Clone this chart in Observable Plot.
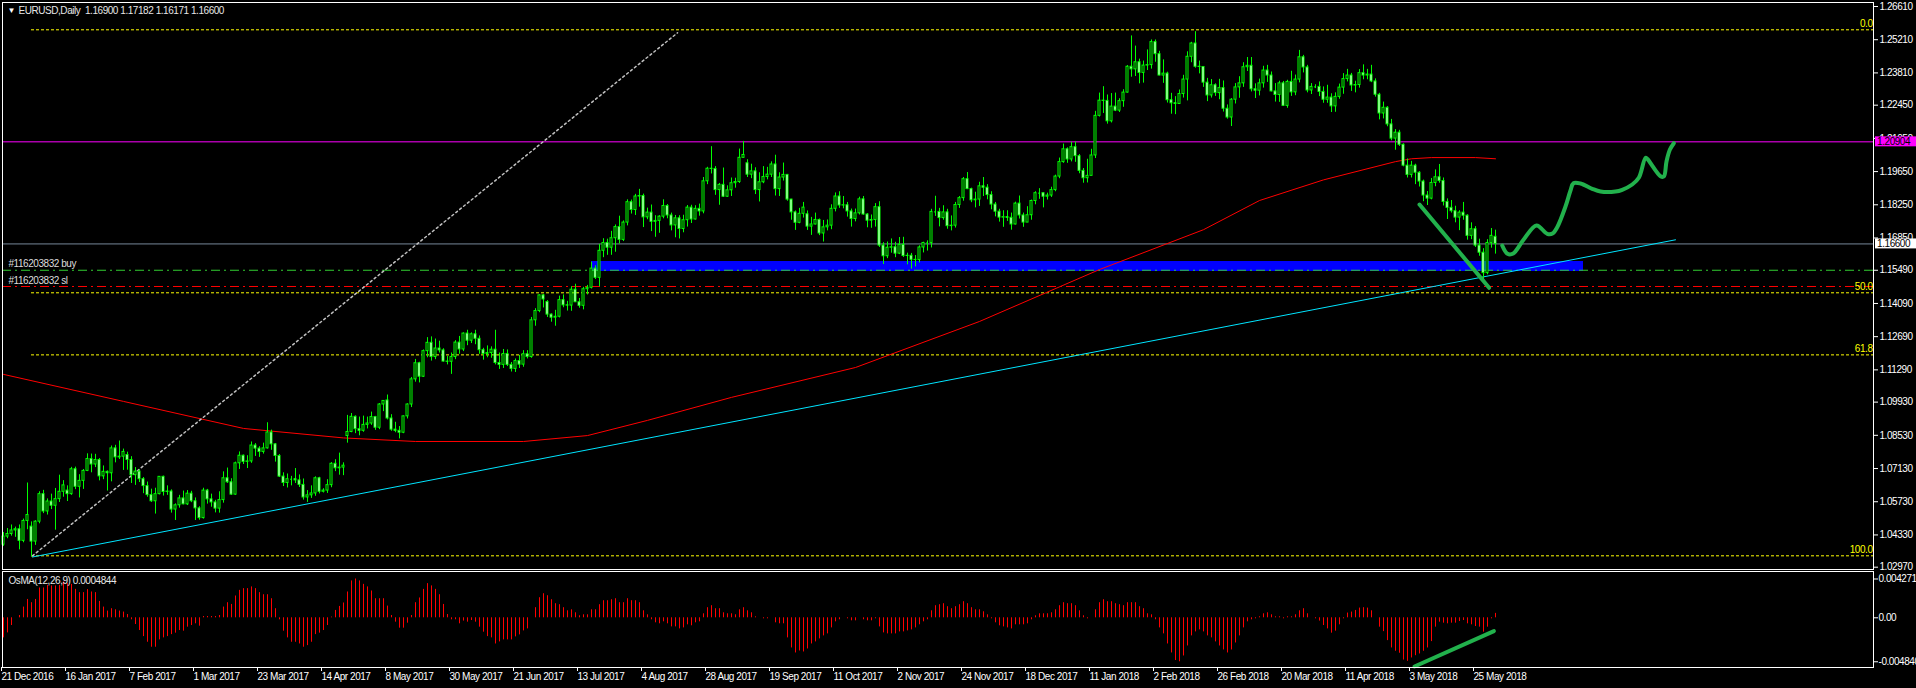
<!DOCTYPE html>
<html><head><meta charset="utf-8">
<script src="https://cdn.jsdelivr.net/npm/d3@7"></script>
<script src="https://cdn.jsdelivr.net/npm/@observablehq/plot@0.6"></script>
<style>
html,body{margin:0;padding:0;background:#000;}
#wrap{position:relative;width:1916px;height:688px;overflow:hidden;background:#000;}
#main,#osc{position:absolute;left:0;}
#main{top:0}
#osc{top:570px}
svg{display:block}
</style></head><body><div id="wrap"><div id="main"></div><div id="osc"></div></div>
<script>
const FONT = '"Liberation Sans",Arial,sans-serif';

// ---- daily EURUSD bars (prices x 1e-4), index 0 = 21 Dec 2016 ----
const opens = [10392,10426,10437,10452,10457,10408,10492,10468,10405,10489,10605,10532,10574,10556,10584,10615,10620,10605,10710,10636,10661,10703,10753,10730,10749,10680,10699,10693,10798,10760,10763,10770,10749,10685,10700,10668,10639,10601,10575,10605,10678,10614,10616,10540,10558,10587,10562,10607,10575,10545,10504,10620,10583,10570,10544,10580,10672,10655,10603,10735,10767,10741,10743,10810,10797,10783,10798,10865,10815,10766,10679,10652,10668,10668,10663,10644,10591,10600,10608,10672,10615,10620,10643,10733,10714,10717,10850,10867,10931,10879,10872,10897,10903,10930,10885,10983,11000,10924,10877,10872,10864,10933,10983,11089,11157,11100,11208,11243,11183,11219,11211,11164,11163,11183,11244,11215,11282,11252,11279,11260,11212,11196,11200,11214,11158,11150,11196,11150,11133,11166,11151,11195,11183,11338,11377,11443,11415,11362,11349,11353,11423,11401,11400,11467,11414,11399,11469,11475,11556,11517,11631,11664,11644,11684,11731,11677,11750,11836,11803,11860,11862,11772,11792,11753,11757,11775,11820,11780,11738,11768,11723,11760,11813,11763,11808,11797,11924,11977,11976,11887,11909,11859,11886,11916,11921,12023,12000,11952,11966,11887,11920,11942,11952,11995,11891,11940,11951,11847,11793,11749,11787,11785,11733,11742,11761,11704,11730,11737,11808,11860,11822,11823,11797,11765,11789,11848,11784,11758,11761,11815,11653,11608,11644,11646,11619,11656,11609,11610,11593,11592,11645,11664,11664,11795,11795,11769,11793,11735,11737,11824,11853,11933,11891,11844,11847,11903,11897,11866,11826,11796,11771,11773,11770,11742,11830,11780,11750,11781,11841,11874,11874,11859,11864,11887,11944,12005,12059,12016,12068,12030,11968,11937,11947,12033,12200,12264,12263,12177,12239,12222,12262,12298,12407,12396,12426,12381,12412,12414,12511,12460,12370,12378,12266,12253,12250,12292,12353,12449,12505,12407,12406,12340,12286,12329,12296,12317,12230,12193,12268,12320,12337,12405,12411,12312,12306,12337,12391,12370,12303,12288,12337,12242,12343,12299,12353,12447,12404,12307,12322,12322,12301,12268,12277,12240,12280,12319,12355,12370,12328,12330,12380,12370,12374,12345,12289,12210,12234,12164,12104,12129,12078,11990,11951,11990,11960,11923,11864,11851,11917,11941,11925,11837,11812,11798,11771,11792,11779,11694,11722,11653,11623,11537,11664,11690];
const highs = [10443,10460,10475,10466,10475,10500,10652,10488,10493,10615,10621,10585,10605,10629,10685,10662,10640,10718,10719,10687,10709,10775,10774,10773,10755,10724,10703,10808,10811,10829,10795,10782,10763,10717,10707,10675,10656,10626,10630,10679,10681,10640,10623,10564,10600,10618,10620,10617,10589,10552,10630,10625,10605,10579,10615,10699,10715,10670,10740,10783,10770,10767,10825,10818,10805,10820,10906,10875,10818,10772,10695,10690,10680,10713,10686,10669,10620,10640,10678,10676,10628,10666,10738,10750,10778,10737,10937,10945,10935,10930,10934,10930,10951,10933,10987,10999,11023,10940,10908,10890,10935,10986,11097,11173,11161,11213,11265,11268,11259,11250,11218,11186,11200,11252,11270,11285,11296,11285,11296,11272,11220,11230,11226,11296,11200,11215,11213,11160,11175,11190,11210,11210,11350,11387,11445,11446,11421,11365,11380,11440,11445,11418,11480,11490,11430,11477,11485,11583,11568,11658,11682,11680,11713,11740,11777,11757,11846,11845,11869,11890,11870,11811,11824,11779,11779,11846,11826,11790,11780,11779,11781,11822,11823,11821,11828,11940,11983,12070,11986,11915,11980,11905,11938,11937,12060,12092,12015,11996,11981,11960,11986,11983,12006,12034,11960,12001,11953,11848,11799,11810,11835,11799,11772,11790,11765,11759,11761,11825,11875,11880,11860,11835,11807,11807,11857,11860,11788,11782,11830,11838,11665,11668,11681,11667,11687,11688,11621,11620,11611,11652,11667,11673,11806,11861,11810,11821,11806,11778,11835,11860,11940,11961,11895,11878,11920,11940,11910,11880,11835,11806,11800,11800,11790,11836,11862,11790,11817,11845,11880,11893,11875,11874,11899,11950,12022,12081,12065,12089,12090,12037,11978,12017,12059,12219,12296,12323,12288,12294,12296,12272,12310,12412,12537,12494,12439,12431,12478,12520,12520,12472,12436,12384,12295,12281,12309,12371,12470,12510,12555,12431,12408,12358,12353,12335,12354,12347,12246,12273,12336,12365,12424,12446,12446,12335,12355,12409,12413,12385,12336,12346,12345,12350,12388,12372,12476,12455,12413,12336,12331,12343,12322,12329,12293,12297,12334,12378,12396,12379,12346,12395,12415,12396,12413,12356,12295,12258,12239,12185,12142,12139,12082,12018,12008,11996,11965,11929,11881,11936,11972,11995,11938,11850,11843,11819,11800,11835,11783,11749,11733,11680,11640,11678,11725,11718];
const lows = [10385,10417,10428,10423,10370,10400,10455,10340,10389,10480,10523,10517,10540,10453,10570,10592,10574,10600,10624,10589,10625,10700,10695,10717,10661,10666,10618,10657,10737,10751,10705,10706,10650,10642,10654,10607,10592,10570,10521,10602,10597,10600,10525,10494,10546,10560,10557,10569,10494,10495,10500,10563,10550,10526,10525,10567,10650,10600,10600,10709,10730,10713,10735,10764,10760,10774,10795,10790,10740,10675,10637,10631,10640,10650,10633,10580,10570,10587,10596,10606,10610,10608,10632,10700,10685,10683,10820,10864,10860,10851,10866,10880,10895,10874,10877,10953,10918,10870,10864,10838,10860,10922,10970,11077,11074,11097,11180,11166,11172,11200,11162,11150,11110,11172,11195,11206,11231,11240,11235,11195,11170,11180,11178,11150,11131,11135,11143,11120,11118,11135,11140,11175,11178,11313,11370,11390,11350,11330,11313,11348,11391,11377,11376,11413,11389,11382,11445,11470,11510,11479,11602,11612,11612,11625,11660,11670,11736,11786,11780,11815,11729,11762,11712,11688,11705,11766,11766,11715,11686,11681,11707,11731,11746,11761,11777,11787,11910,11955,11865,11823,11856,11856,11860,11895,11915,12022,11940,11935,11868,11837,11914,11930,11940,11862,11860,11925,11840,11760,11717,11745,11769,11717,11696,11740,11695,11668,11715,11720,11795,11810,11808,11773,11731,11753,11782,11781,11728,11726,11731,11645,11573,11598,11621,11602,11615,11603,11572,11554,11563,11580,11622,11630,11643,11776,11732,11760,11722,11715,11727,11810,11840,11889,11834,11812,11818,11860,11846,11804,11774,11752,11730,11755,11718,11740,11765,11730,11750,11760,11825,11848,11812,11845,11856,11880,11935,12000,12000,12006,12004,11956,11916,11917,11947,12020,12195,12210,12165,12170,12218,12214,12236,12296,12363,12366,12335,12338,12391,12397,12426,12369,12337,12254,12207,12205,12249,12275,12263,12424,12401,12377,12320,12260,12275,12282,12268,12216,12186,12155,12250,12274,12320,12387,12301,12273,12284,12317,12341,12301,12258,12257,12240,12232,12282,12285,12339,12381,12297,12290,12315,12281,12253,12253,12214,12215,12270,12291,12343,12303,12297,12317,12352,12352,12340,12279,12183,12187,12154,12095,12055,12071,11985,11938,11938,11910,11900,11838,11822,11846,11901,11916,11820,11763,11790,11749,11716,11760,11676,11678,11645,11608,11510,11530,11642,11617];
const closes = [10426,10437,10452,10457,10408,10492,10517,10405,10489,10605,10532,10574,10556,10584,10615,10642,10605,10710,10636,10661,10703,10753,10730,10749,10680,10699,10693,10798,10760,10763,10783,10749,10685,10700,10668,10639,10601,10575,10605,10678,10614,10616,10540,10558,10587,10562,10607,10575,10545,10504,10620,10583,10570,10544,10580,10672,10655,10603,10735,10767,10741,10743,10810,10797,10783,10798,10865,10815,10766,10679,10652,10668,10668,10663,10644,10591,10600,10608,10672,10615,10620,10643,10733,10714,10717,10725,10867,10931,10879,10872,10897,10903,10930,10885,10983,10998,10924,10877,10872,10864,10933,10983,11089,11157,11100,11208,11243,11183,11219,11211,11164,11163,11183,11244,11215,11282,11252,11279,11260,11212,11196,11200,11214,11158,11150,11196,11150,11133,11166,11151,11195,11183,11338,11377,11443,11426,11362,11349,11353,11423,11401,11400,11467,11414,11399,11469,11475,11556,11517,11631,11664,11644,11684,11731,11677,11750,11836,11803,11860,11862,11772,11792,11753,11757,11775,11820,11780,11738,11768,11723,11760,11813,11763,11808,11797,11924,11977,11976,11887,11909,11859,11886,11916,11921,12023,12035,11952,11966,11887,11920,11942,11952,11995,11891,11940,11951,11847,11793,11749,11787,11813,11733,11742,11761,11704,11730,11737,11808,11860,11822,11823,11797,11765,11789,11848,11784,11758,11761,11815,11653,11608,11644,11646,11619,11656,11609,11610,11593,11592,11645,11664,11664,11795,11795,11769,11793,11735,11737,11824,11853,11933,11891,11844,11847,11903,11897,11866,11826,11796,11771,11773,11770,11742,11830,11780,11750,11781,11841,11874,11874,11859,11864,11887,11944,12005,12059,12016,12068,12030,11968,11937,11947,12033,12200,12264,12263,12177,12239,12222,12262,12298,12407,12396,12426,12381,12412,12414,12511,12460,12370,12378,12266,12253,12250,12292,12353,12449,12505,12407,12406,12340,12286,12329,12296,12317,12230,12193,12268,12320,12337,12405,12411,12312,12306,12337,12391,12370,12303,12288,12337,12242,12343,12299,12353,12447,12404,12307,12322,12322,12301,12268,12277,12240,12280,12319,12355,12370,12328,12330,12380,12370,12374,12345,12289,12210,12234,12164,12104,12129,12078,11990,11951,11990,11960,11923,11864,11851,11917,11941,11925,11837,11812,11798,11771,11792,11779,11694,11722,11653,11623,11537,11664,11694,11660];

// ---- OsMA(12,26,9) histogram, units of 0.0001 ----
const osma = [-22.1,-16.6,-8.5,0,2.5,11.8,20.2,16.6,20.2,32.8,32.8,35.7,35.1,35.1,35.7,39.5,37.6,36.8,31.3,27.7,27.7,31,28.4,27.7,18,11.8,7.4,10,8.8,7.4,6.3,3.6,-2.2,-7.4,-14,-20.7,-26.9,-32.4,-32.4,-24.3,-22.1,-20.7,-18.5,-16.9,-14,-14.7,-10.3,-8.5,-6.6,-9.2,1.4,1.4,1.4,1.4,2.5,11.8,16.6,14.7,24,30.2,32.1,32.1,34,32.1,27.7,25.4,25.4,21,10,-2.2,-14.7,-22.1,-26.9,-26.9,-28.8,-32.4,-30.6,-26.9,-18.5,-16.9,-14,-8.5,0.8,8.1,12.5,16.3,28.4,40.6,42.71,40.6,36.8,34,29.5,21,21,21,12.9,2.5,-4.8,-11.4,-11.4,-5.9,2.5,16.6,21.8,31.3,37.6,35.1,31.3,25.4,14.7,3.6,-2.2,-2.2,-6.6,-3.6,-4.8,-3,-4.8,-10.3,-15.8,-20.7,-22.1,-28.8,-26.5,-24.3,-24.3,-24.3,-21,-18.8,-14.4,-12.2,0,11.1,22.1,26.5,24.3,19.9,15.5,14.4,11.1,7.7,8.8,5.5,2.2,3.3,3.3,8.8,8.8,14.4,18.8,18.8,19.9,21,16.6,16.6,21,18.8,18.8,16.6,7.7,3.3,-2.2,-5.5,-6.6,-4.4,-6.6,-10,-10,-12.2,-11.1,-7.7,-8.8,-5.5,-4.4,4.4,11.1,13.3,10,10,5.5,4.4,4.4,3.3,8.8,11.1,7.7,5.5,1.1,0,-1.1,-1.1,0,-5.5,-6.6,-6.6,-22.1,-33.2,-38.7,-36.5,-37.6,-34.3,-28.8,-26.5,-23.2,-19.9,-17.7,-11.1,-4.4,-2.2,0,-1.1,-3.3,-3.3,0,-2.2,-3.3,-3.3,-1.1,-10,-16.6,-17.7,-17.7,-17.7,-15.5,-15.5,-14.4,-13.3,-11.1,-7.7,-4.4,-2.2,7.7,13.3,14.4,15.5,12.2,10,12.2,14.4,17.7,15.5,11.1,8.8,8.8,6.6,3.3,-1.1,-5.5,-8.8,-10,-11.1,-12.2,-7.7,-7.7,-7.7,-6.6,-2.2,2.2,4.4,4.4,4.4,5.5,8.8,13.3,16.6,15.5,15.5,13.3,7.7,2.2,-1.1,0,8.8,16.6,19.9,17.7,17.7,15.5,14.4,13.3,16.6,16.6,16.6,12.2,10,4.4,3.3,-2.2,-11.1,-17.7,-28.8,-38.7,-47,-48.4,-42,-31,-19.9,-15.5,-13.3,-15.5,-19.9,-22.1,-26.5,-31,-35.4,-38.7,-35.4,-27.7,-19.9,-11.1,-4.4,-2.2,-1.1,1.1,4.4,5.5,3.3,1.1,1.1,-1.1,1.1,1.1,3.3,7.7,10,4.4,0,-1.1,-3.6,-8.5,-12.2,-16.9,-14.7,-7.7,-1.1,5.2,6.3,8.1,10.7,11.1,10.7,7.7,0,-10.3,-15.2,-25.1,-33.2,-36.8,-39,-46.5,-47.9,-44.2,-41.7,-39.8,-36.8,-33.2,-26.2,-10.3,-4.8,-5.9,-6.6,-5.9,-5.9,-4.1,-3,-6.6,-7.7,-9.6,-10.3,-15.8,-10.3,-1.1,4.844];

// ---- 200-day moving average ----
const maIdx   = [0, 30, 60, 85, 103, 130, 146, 161, 182, 213, 244, 274, 300, 314, 330, 348, 352, 357, 368, 373];
const maPrice = [1.1110, 1.0996, 1.0882, 1.0842, 1.0827, 1.0827, 1.0852, 1.0916, 1.1013, 1.1139, 1.1333, 1.1552, 1.1720, 1.1843, 1.1930, 1.2007, 1.2019, 1.2024, 1.2024, 1.2019];

// ---- objects ----
const fibPrices = [1.25628, 1.14539, 1.11922, 1.03450];
const fibLabels = ["0.0", "50.0", "61.8", "100.0"];
const fibStart = 7;
const resistance = 1.20904;
const bid = 1.16600;
const buyPrice = 1.15490, slPrice = 1.14805;
const orderLabels = ["#116203832 buy", "#116203832 sl"];
const zone = {i1: 147, i2: 395, p1: 1.15437, p2: 1.15859};
const trendIdx = [7.25, 418], trendPrice = [1.0340, 1.16774];
const fibDiagIdx = [7.25, 168.5], fibDiagPrice = [1.0345, 1.2550];
const arrowIdx = [354, 371.4], arrowPrice = [1.18262, 1.14750];
const pathIdx = [374.68,376.0,377.43,380.0,383.25,385.93,387.25,388.43,390.5,391.75,392.5,394.25,397.18,399.25,403,404.68,407.18,408.83,410.5,410.93,414.25,415.08,415.75,416.58,417.58];
const pathPrice = [1.16533,1.16183,1.16196,1.16774,1.17376,1.17027,1.17039,1.17305,1.18178,1.18852,1.1916,1.19147,1.18924,1.1881,1.1881,1.18882,1.19105,1.19388,1.20231,1.20189,1.19455,1.19443,1.20075,1.20568,1.20846];
const oscLineIdx = [352.75, 372.6], oscLineVal = [-53.6, -14.7];

const priceTicks = [1.26610,1.25210,1.23810,1.22450,1.21050,1.19650,1.18250,1.16850,1.15490,1.14090,1.12690,1.11290,1.09930,1.08530,1.07130,1.05730,1.04330,1.02970];
const oscTicks = [0.004271, 0, -0.004840];
const oscTickLabels = ["0.004271", "0.00", "-0.004840"];
const dateTickIdx = [0,16,32,48,64,80,96,112,128,144,160,176,192,208,224,240,256,272,288,304,320,336,352,368];
const dateLabels = ["21 Dec 2016","16 Jan 2017","7 Feb 2017","1 Mar 2017","23 Mar 2017","14 Apr 2017","8 May 2017","30 May 2017","21 Jun 2017","13 Jul 2017","4 Aug 2017","28 Aug 2017","19 Sep 2017","11 Oct 2017","2 Nov 2017","24 Nov 2017","18 Dec 2017","11 Jan 2018","2 Feb 2018","26 Feb 2018","20 Mar 2018","11 Apr 2018","3 May 2018","25 May 2018"];
const titleText = "EURUSD,Daily  1.16900 1.17182 1.16171 1.16600";
const oscTitle = "OsMA(12,26,9) 0.0004844";

// ---- build tables ----
const bars = closes.map((c, i) => ({i, o: opens[i]/1e4, h: highs[i]/1e4, l: lows[i]/1e4, c: c/1e4}));
const bull = bars.filter(d => d.c > d.o), bear = bars.filter(d => d.c < d.o), doji = bars.filter(d => d.c === d.o);
const ma = maIdx.map((i, k) => ({i, p: maPrice[k]}));
const fibs = fibPrices.map((p, k) => ({p, label: fibLabels[k]}));
const orders = [{p: buyPrice, label: orderLabels[0], color: "#32cd32"}, {p: slPrice, label: orderLabels[1], color: "#ff0000"}];
const trend = trendIdx.map((i, k) => ({i, p: trendPrice[k]}));
const fibDiag = fibDiagIdx.map((i, k) => ({i, p: fibDiagPrice[k]}));
const arrow = arrowIdx.map((i, k) => ({i, p: arrowPrice[k]}));
const path = pathIdx.map((i, k) => ({i, p: pathPrice[k]}));
const osc = osma.map((v, i) => ({i, v: v/1e4}));
const oscLine = oscLineIdx.map((i, k) => ({i, v: oscLineVal[k]/1e4}));
const XMIN = -0.25, XMAX = 467.5;
const GREEN = "#00ff00", ANNOT = "#22b14c";
const style = {background: "#000", color: "#fff", fontFamily: FONT, fontSize: "10px", letterSpacing: "-0.45px"};

const main = Plot.plot({
  width: 1916, height: 571, marginLeft: 2, marginRight: 43, marginTop: 2, marginBottom: 2,
  style,
  x: {type: "linear", domain: [XMIN, XMAX], axis: null},
  y: {type: "linear", domain: [1.02873, 1.26779], axis: null},
  marks: [
    Plot.rect([zone], {x1: "i1", x2: "i2", y1: "p1", y2: "p2", fill: "#0000ff"}),
    Plot.ruleY(fibs, {y: "p", x1: fibStart, x2: XMAX, stroke: "#ffff00", strokeDasharray: "3,2"}),
    Plot.ruleY([resistance], {stroke: "#ff00ff"}),
    Plot.ruleY([bid], {stroke: "#778899"}),
    Plot.ruleY(orders, {y: "p", stroke: "color", strokeDasharray: "9,4,2,4"}),
    Plot.line(ma, {x: "i", y: "p", stroke: "#ff0000", strokeWidth: 1}),
    Plot.line(trend, {x: "i", y: "p", stroke: "#00e5ff", strokeWidth: 1}),
    Plot.line(fibDiag, {x: "i", y: "p", stroke: "#c0c0c0", strokeDasharray: "2,3"}),
    Plot.ruleX(bars, {x: "i", y1: "l", y2: "h", stroke: GREEN}),
    Plot.rect(bull, {x1: d => d.i - 0.25, x2: d => d.i + 0.25, y1: "o", y2: "c", fill: "#000", stroke: GREEN}),
    Plot.rect(bear, {x1: d => d.i - 0.25, x2: d => d.i + 0.25, y1: "c", y2: "o", fill: "#fff", stroke: GREEN}),
    Plot.ruleY(doji, {y: "o", x1: d => d.i - 0.25, x2: d => d.i + 0.25, stroke: GREEN}),
    Plot.line(arrow, {x: "i", y: "p", stroke: ANNOT, strokeWidth: 4, strokeLinecap: "round"}),
    Plot.line(path, {x: "i", y: "p", stroke: ANNOT, strokeWidth: 4, strokeLinecap: "round", strokeLinejoin: "round", curve: "catmull-rom"}),
    Plot.text(fibs, {x: XMAX, y: "p", text: "label", dx: -1, dy: -6, textAnchor: "end", fill: "#ffff00"}),
    Plot.text(orders, {x: 1.25, y: "p", text: "label", dy: -6, textAnchor: "start", fill: "#dcdcdc"}),
    Plot.frame({stroke: "#fff"}),
    Plot.axisY(priceTicks, {anchor: "right", tickSize: 4, tickPadding: 2, tickFormat: d => d.toFixed(5), label: null}),
    Plot.rect([{p: resistance, fill: "#ff00ff"}, {p: bid, fill: "#ffffff"}], {x1: 468, x2: 480, y1: d => d.p - 0.0021, y2: d => d.p + 0.0021, fill: "fill"}),
    Plot.text([{p: resistance, t: "1.20904"}, {p: bid, t: "1.16600"}], {x: 468.4, y: "p", text: "t", textAnchor: "start", fill: "#000"}),
    Plot.text(["\u25BC"], {frameAnchor: "top-left", dx: 5, dy: 8, textAnchor: "start", lineAnchor: "middle", fontSize: 8, fill: "#fff"}),
    Plot.text([titleText], {frameAnchor: "top-left", dx: 16, dy: 8, textAnchor: "start", lineAnchor: "middle", fill: "#e6e6e6"})
  ]
});
document.getElementById("main").appendChild(main);

const oscPlot = Plot.plot({
  width: 1916, height: 118, marginLeft: 2, marginRight: 43, marginTop: 1, marginBottom: 21,
  style,
  x: {type: "linear", domain: [XMIN, XMAX], axis: null},
  y: {type: "linear", domain: [-0.005470, 0.005096], axis: null},
  marks: [
    Plot.ruleX(osc, {x: "i", y1: 0, y2: "v", stroke: "#ff0000"}),
    Plot.line(oscLine, {x: "i", y: "v", stroke: ANNOT, strokeWidth: 4, strokeLinecap: "round"}),
    Plot.frame({stroke: "#fff"}),
    Plot.axisY(oscTicks, {anchor: "right", tickSize: 4, tickPadding: 1, tickFormat: d => oscTickLabels[oscTicks.indexOf(d)], label: null}),
    Plot.axisX(dateTickIdx, {anchor: "bottom", tickSize: 4, tickPadding: 1, tickFormat: d => dateLabels[dateTickIdx.indexOf(d)], textAnchor: "start", dx: -2, label: null}),
    Plot.text([oscTitle], {frameAnchor: "top-left", dx: 6, dy: 9.5, textAnchor: "start", lineAnchor: "middle", fill: "#e6e6e6"})
  ]
});
document.getElementById("osc").appendChild(oscPlot);
</script></body></html>
